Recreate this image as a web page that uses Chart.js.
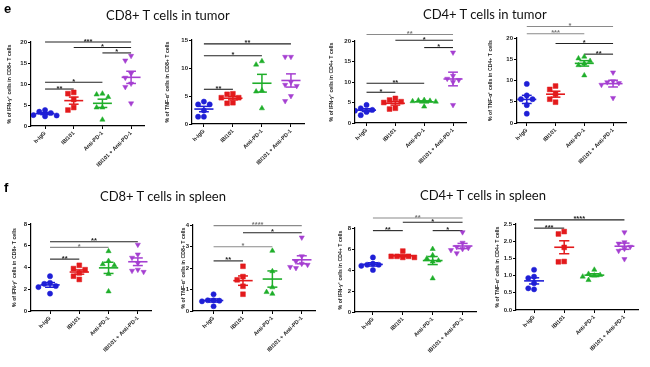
<!DOCTYPE html>
<html>
<head>
<meta charset="utf-8">
<title>IBI101 cytokine dot plots</title>
<script src="https://cdn.jsdelivr.net/npm/chart.js"></script>
<style>
    body {
        margin: 0;
        width: 650px;
        height: 367px;
        position: relative;
        overflow: hidden;
        background: #fff;
        font-family: 'Liberation Sans', Arial, sans-serif;
    }
    canvas { position: absolute; }
    .panel-title {
        position: absolute;
        font-family: Lato, 'Open Sans', sans-serif;
        font-size: 13px;
        line-height: 1;
        color: #111;
        white-space: nowrap;
        z-index: 2;
    }
    .letter {
        position: absolute;
        font-weight: bold;
        font-size: 13px;
        line-height: 1;
        z-index: 2;
    }
</style>
</head>
<body>
<div class="letter" style="left:4px; top:2px">e</div>
<div class="letter" style="left:4px; top:181px">f</div>
<div class="panel-title" style="left:106px; top:9px">CD8+ T cells in tumor</div>
<div class="panel-title" style="left:423px; top:8px">CD4+ T cells in tumor</div>
<div class="panel-title" style="left:100px; top:190px">CD8+ T cells in spleen</div>
<div class="panel-title" style="left:420px; top:189px">CD4+ T cells in spleen</div>

<script>
    // groups (x categories)
    const groups = ['h-IgG', 'IBI101', 'Anti-PD-1', 'IBI101 + Anti-PD-1'];

    // e: tumor
    const ifnCd8Tumor = [[3.8, 3.4, 2.5, 2.3, 2.6, 3.1], [8.0, 3.8, 6.3, 4.4, 7.7], [7.5, 7.7, 6.9, 4.4, 4.4, 1.5], [16.7, 15.6, 12.5, 11.5, 10.1, 9.3, 5.4]];
    const ifnCd8TumorTicks = [0, 5, 10, 15, 20];
    const ifnCd8TumorSig = [[0, 3, 20.0, '***'], [1, 3, 18.7, '*'], [2, 3, 17.4, '*'], [0, 2, 10.4, '*'], [0, 1, 8.8, '**']];

    const tnfCd8Tumor = [[3.5, 4.0, 3.5, 2.4, 1.3, 1.3], [5.4, 5.3, 4.7, 4.7, 3.7, 3.8], [11.2, 10.6, 6.0, 5.8, 2.8], [12.0, 12.0, 6.8, 7.0, 5.0, 4.1, 7.5]];
    const tnfCd8TumorTicks = [0, 5, 10, 15];
    const tnfCd8TumorSig = [[0, 3, 14.3, '**'], [0, 2, 12.2, '*'], [0, 1, 6.2, '**']];

    const ifnCd4Tumor = [[4.4, 3.6, 1.9, 3.2, 2.7, 3.0], [6.0, 5.6, 5.2, 3.6, 3.4, 5.0], [5.5, 5.6, 5.3, 5.4, 5.2, 4.0], [17.2, 11.5, 10.8, 10.5, 10.0, 4.4]];
    const ifnCd4TumorTicks = [0, 5, 10, 15, 20];
    const ifnCd4TumorSig = [[0, 3, 21.6, '**'], [1, 3, 20.2, '*'], [2, 3, 18.4, '*'], [0, 2, 9.7, '**'], [0, 1, 7.5, '*']];

    const tnfCd4Tumor = [[9.2, 6.5, 5.6, 5.6, 4.2, 2.2], [8.7, 4.9, 6.8, 7.9, 5.6], [15.6, 13.6, 14.0, 14.6, 15.2, 11.2], [11.9, 9.8, 9.0, 9.4, 5.9, 9.6]];
    const tnfCd4TumorTicks = [0, 5, 10, 15, 20];
    const tnfCd4TumorSig = [[0, 3, 22.7, '*'], [0, 2, 21.0, '***'], [1, 3, 18.7, '*'], [2, 3, 16.2, '**']];

    // f: spleen
    const ifnCd8Spleen = [[3.2, 2.6, 2.5, 2.3, 2.2, 1.6], [4.2, 2.9, 3.8, 3.5, 3.2, 3.9], [5.5, 4.6, 4.3, 3.4, 1.8, 4.2], [6.1, 5.2, 4.9, 4.4, 3.7, 3.6, 3.8]];
    const ifnCd8SpleenTicks = [0, 2, 4, 6, 8];
    const ifnCd8SpleenSig = [[0, 3, 6.37, '**'], [0, 2, 5.85, '*'], [0, 1, 4.77, '**']];

    const tnfCd8Spleen = [[0.78, 0.5, 0.45, 0.48, 0.22, 0.5], [2.08, 1.6, 1.45, 1.15, 0.78], [2.8, 0.8, 1.1, 0.88, 1.85], [3.42, 2.55, 2.2, 2.15, 2.05, 2.0, 2.3]];
    const tnfCd8SpleenTicks = [0, 1, 2, 3, 4];
    const tnfCd8SpleenSig = [[0, 3, 3.97, '****'], [1, 3, 3.64, '*'], [0, 2, 2.99, '*'], [0, 1, 2.33, '**']];

    const ifnCd4Spleen = [[4.5, 4.0, 4.6, 4.5, 5.2, 4.4], [5.8, 5.2, 5.3, 5.3, 5.3, 5.2], [6.0, 5.4, 4.8, 5.1, 4.9, 3.2], [7.6, 6.6, 6.1, 6.2, 5.9, 5.6, 6.0]];
    const ifnCd4SpleenTicks = [0, 2, 4, 6, 8];
    const ifnCd4SpleenSig = [[0, 3, 8.95, '**'], [1, 3, 8.55, '*'], [0, 1, 7.75, '**'], [2, 3, 7.75, '*']];

    const tnfCd4Spleen = [[1.17, 0.97, 0.93, 0.78, 0.6, 0.63], [2.21, 2.28, 1.82, 1.40, 1.41], [1.17, 1.05, 1.02, 1.0, 0.87, 0.97], [2.26, 1.97, 1.93, 1.84, 1.78, 1.72, 1.48]];
    const tnfCd4SpleenTicks = [0, 0.5, 1.0, 1.5, 2.0, 2.5];
    const tnfCd4SpleenSig = [[0, 3, 2.62, '****'], [0, 1, 2.38, '***']];

    // styles
    const colors = ['#1f1fd6', '#e31a1c', '#1fae2a', '#a53fd1'];
    const markers = [
        { pointStyle: 'circle', radius: 2.6, rotation: 0 },
        { pointStyle: 'rect', radius: 3.4, rotation: 0 },
        { pointStyle: 'triangle', radius: 3.0, rotation: 0 },
        { pointStyle: 'triangle', radius: 3.0, rotation: 180 }
    ];
    const L = 31, T = 30, R = 6, B = 56;
    const X_MAX = 3.45;

    // chart area (page pixels) for each panel
    const panels = [
        { values: ifnCd8Tumor, ticks: ifnCd8TumorTicks, sig: ifnCd8TumorSig, title: '% of IFN-γ⁺ cells in CD8+ T cells', area: { l: 31, r: 144, t: 42, b: 126 }, xMin: -0.49, titleGap: 21, grey: [] },
        { values: tnfCd8Tumor, ticks: tnfCd8TumorTicks, sig: tnfCd8TumorSig, title: '% of TNF-α⁺ cells in CD8+ T cells', area: { l: 192, r: 304, t: 40, b: 124 }, xMin: -0.41, titleGap: 24, grey: [] },
        { values: ifnCd4Tumor, ticks: ifnCd4TumorTicks, sig: ifnCd4TumorSig, title: '% of IFN-γ⁺ cells in CD4+ T cells', area: { l: 355, r: 466, t: 41, b: 123 }, xMin: -0.4, titleGap: 23, grey: [0] },
        { values: tnfCd4Tumor, ticks: tnfCd4TumorTicks, sig: tnfCd4TumorSig, title: '% of TNF-α⁺ cells in CD4+ T cells', area: { l: 517, r: 626, t: 38, b: 123 }, xMin: -0.34, titleGap: 26, grey: [0, 1] },
        { values: ifnCd8Spleen, ticks: ifnCd8SpleenTicks, sig: ifnCd8SpleenSig, title: '% of IFN-γ⁺ cells in CD8+ T cells', area: { l: 31, r: 151, t: 224, b: 311 }, xMin: -0.65, titleGap: 16, grey: [1] },
        { values: tnfCd8Spleen, ticks: tnfCd8SpleenTicks, sig: tnfCd8SpleenSig, title: '% of TNF-α⁺ cells in CD8+ T cells', area: { l: 193, r: 315, t: 225, b: 311 }, xMin: -0.7, titleGap: 9, grey: [0, 2] },
        { values: ifnCd4Spleen, ticks: ifnCd4SpleenTicks, sig: ifnCd4SpleenSig, title: '% of IFN-γ⁺ cells in CD4+ T cells', area: { l: 355, r: 476, t: 228, b: 312 }, xMin: -0.6, titleGap: 14, grey: [0] },
        { values: tnfCd4Spleen, ticks: tnfCd4SpleenTicks, sig: tnfCd4SpleenSig, title: '% of TNF-α⁺ cells in CD4+ T cells', area: { l: 516, r: 638, t: 224, b: 310 }, xMin: -0.6, titleGap: 18, grey: [], decimals: 1 }
    ];

    // spread points of one group sideways so they don't overlap
    function swarm(vals, ppu, catPx) {
        const D = 5.8, step = D / catPx;
        const order = vals.map((v, i) => i).sort((a, b) => vals[b] - vals[a]);
        const placed = [];
        const off = [];
        order.forEach(i => {
            for (let k = 0; k < 14; k++) {
                const o = (k % 2 ? -1 : 1) * Math.ceil(k / 2) * step;
                const hit = placed.some(p => {
                    const dx = (o - p.o) * catPx, dy = (vals[i] - p.v) * ppu;
                    return dx * dx + dy * dy < D * D;
                });
                if (!hit) { off[i] = o; placed.push({ o: o, v: vals[i] }); break; }
            }
        });
        return off;
    }

    function segment(x1, y1, x2, y2, color, width) {
        return {
            data: [{ x: x1, y: y1 }, { x: x2, y: y2 }],
            showLine: true,
            pointRadius: 0,
            borderColor: color,
            borderWidth: width,
            clip: false
        };
    }

    const starPlugin = {
        id: 'stars',
        afterDatasetsDraw(chart, args, opts) {
            const ctx = chart.ctx, x = chart.scales.x, y = chart.scales.y;
            ctx.save();
            ctx.font = 'bold 7.5px "Liberation Sans", Arial, sans-serif';
            ctx.textAlign = 'center';
            ctx.textBaseline = 'alphabetic';
            opts.bars.forEach((s, k) => {
                ctx.fillStyle = opts.grey.includes(k) ? '#777' : '#222';
                ctx.fillText(s[3], x.getPixelForValue((s[0] + s[1]) / 2), y.getPixelForValue(s[2]) + 1.5);
            });
            ctx.restore();
        }
    };

    panels.forEach(p => {
        const a = p.area;
        const cw = a.r - a.l, ch = a.b - a.t;
        const cv = document.createElement('canvas');
        cv.width = cw + L + R;
        cv.height = ch + T + B;
        cv.style.width = cv.width + 'px';
        cv.style.height = cv.height + 'px';
        cv.style.left = (a.l - L) + 'px';
        cv.style.top = (a.t - T) + 'px';
        document.body.appendChild(cv);

        const yMax = p.ticks[p.ticks.length - 1];
        const ppu = ch / yMax;
        const catPx = cw / (X_MAX - p.xMin);
        const datasets = [];

        p.values.forEach((vals, g) => {
            const c = colors[g];
            const off = swarm(vals, ppu, catPx);
            datasets.push({
                data: vals.map((v, i) => ({ x: g + off[i], y: v })),
                pointStyle: markers[g].pointStyle,
                pointRadius: markers[g].radius,
                rotation: markers[g].rotation,
                backgroundColor: c,
                borderColor: c,
                borderWidth: 0.5
            });
            const n = vals.length;
            const mean = vals.reduce((s, v) => s + v, 0) / n;
            const sd = Math.sqrt(vals.reduce((s, v) => s + (v - mean) * (v - mean), 0) / (n - 1));
            const sem = sd / Math.sqrt(n);
            datasets.push(segment(g - 0.33, mean, g + 0.33, mean, c, 1.6));
            datasets.push(segment(g, mean - sem, g, mean + sem, c, 1.5));
            datasets.push(segment(g - 0.17, mean + sem, g + 0.17, mean + sem, c, 1.5));
            datasets.push(segment(g - 0.17, mean - sem, g + 0.17, mean - sem, c, 1.5));
        });

        p.sig.forEach((s, k) => {
            datasets.push(segment(s[0], s[2], s[1], s[2], p.grey.includes(k) ? '#8a8a8a' : '#222', 1.1));
        });

        new Chart(cv, {
            type: 'scatter',
            data: { datasets: datasets },
            plugins: [starPlugin],
            options: {
                responsive: false,
                animation: false,
                events: [],
                layout: { padding: { top: T, right: R, left: 0, bottom: 0 } },
                plugins: {
                    legend: { display: false },
                    tooltip: { enabled: false },
                    stars: { bars: p.sig, grey: p.grey }
                },
                scales: {
                    x: {
                        type: 'linear',
                        min: p.xMin,
                        max: X_MAX,
                        afterBuildTicks: s => { s.ticks = [0, 1, 2, 3].map(v => ({ value: v })); },
                        afterFit: s => { s.height = B; },
                        border: { color: '#000', width: 1.2 },
                        grid: { drawOnChartArea: false, tickLength: 3, color: '#000', lineWidth: 1 },
                        ticks: {
                            autoSkip: false,
                            minRotation: 45,
                            maxRotation: 45,
                            padding: 1,
                            color: '#222',
                            font: { family: "'Liberation Sans', Arial, sans-serif", size: 5.5, weight: 'bold' },
                            callback: v => groups[v]
                        }
                    },
                    y: {
                        min: 0,
                        max: yMax,
                        afterBuildTicks: s => { s.ticks = p.ticks.map(v => ({ value: v })); },
                        afterFit: s => { s.width = L; },
                        border: { color: '#000', width: 1.2 },
                        grid: { drawOnChartArea: false, tickLength: 3, color: '#000', lineWidth: 1 },
                        ticks: {
                            padding: 1,
                            color: '#222',
                            font: { family: "'Liberation Sans', Arial, sans-serif", size: 6, weight: 'bold' },
                            callback: v => p.decimals ? v.toFixed(p.decimals) : v
                        },
                        title: {
                            display: true,
                            text: p.title,
                            color: '#222',
                            font: { family: "'Liberation Sans', Arial, sans-serif", size: 5.2, weight: 'bold', lineHeight: 1 },
                            padding: { top: L - p.titleGap - 2.6, bottom: 0 }
                        }
                    }
                }
            }
        });
    });
</script>
</body>
</html>
